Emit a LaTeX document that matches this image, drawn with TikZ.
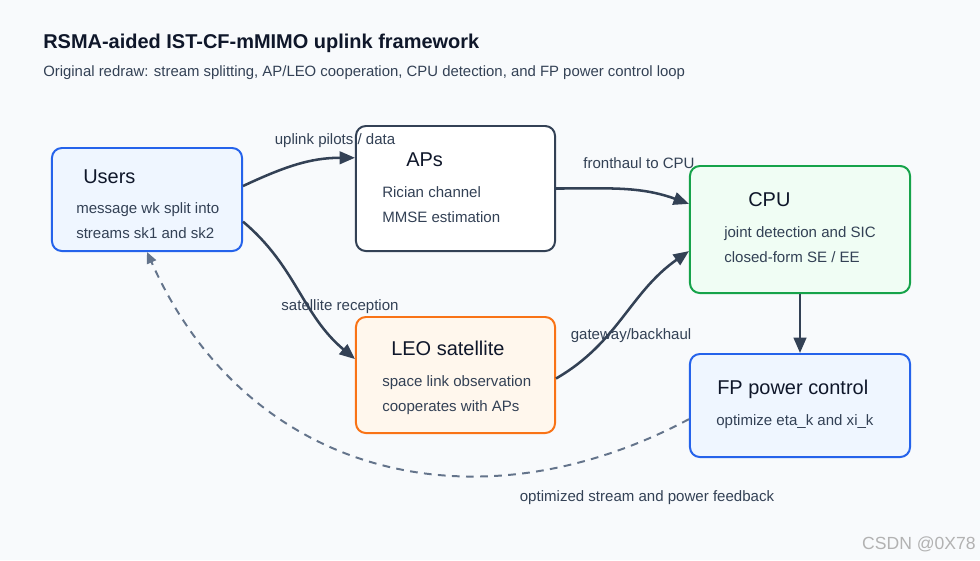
\documentclass[tikz,border=0pt]{standalone}
\usepackage{fontspec}
\setmainfont{Liberation Sans}
\usetikzlibrary{arrows.meta, positioning}
\definecolor{PageBg}{HTML}{F8FAFC}
\definecolor{Ink}{HTML}{0F172A}
\definecolor{Slate}{HTML}{334155}
\definecolor{SlateLight}{HTML}{64748B}
\definecolor{UserBlue}{HTML}{2563EB}
\definecolor{UserFill}{HTML}{EFF6FF}
\definecolor{CpuGreen}{HTML}{16A34A}
\definecolor{CpuFill}{HTML}{F0FDF4}
\definecolor{LeoOrange}{HTML}{F97316}
\definecolor{LeoFill}{HTML}{FFF7ED}

\begin{document}
\begin{tikzpicture}[
    x=0.025cm, y=0.025cm,
    block/.style={draw, line width=1.4pt, rounded corners=7pt},
    head/.style={anchor=base west, inner sep=0pt, text=Ink,
        font=\fontsize{14.2}{17}\selectfont},
    body/.style={anchor=base west, inner sep=0pt, align=left, text=Slate,
        font=\fontsize{10.7}{17.2}\selectfont},
    flow/.style={-{Triangle[length=11pt, width=9pt]}, line width=1.8pt, Slate},
    feedback/.style={-{Triangle[length=8pt, width=7pt]}, line width=1.4pt,
        SlateLight, dash pattern=on 5.5pt off 4.5pt},
    lbl/.style={inner sep=1pt, text=Slate, font=\fontsize{10.7}{13}\selectfont},
]

% page
\fill[PageBg] (0,0) rectangle (980,-560);
\useasboundingbox (0,0) rectangle (980,-560);

% title
\node[anchor=base west, inner sep=0pt, text=Ink,
      font=\fontsize{14.2}{17}\selectfont\bfseries] (title) at (43,-48)
    {RSMA-aided IST-CF-mMIMO uplink framework};
\node[anchor=base west, inner sep=0pt, text=Slate,
      font=\fontsize{10.6}{13}\selectfont] (subtitle) at (43,-76)
    {Original redraw: stream splitting, AP/LEO cooperation, CPU detection, and FP power control loop};

% blocks
\node[block, draw=UserBlue, fill=UserFill, minimum width=4.75cm, minimum height=2.575cm]
    (users) at (147,-199.5) {};
\node[block, draw=Slate, fill=white, minimum width=4.975cm, minimum height=3.125cm]
    (aps) at (455.5,-188.5) {};
\node[block, draw=CpuGreen, fill=CpuFill, minimum width=5.5cm, minimum height=3.175cm]
    (cpu) at (800,-229.5) {};
\node[block, draw=LeoOrange, fill=LeoFill, minimum width=4.975cm, minimum height=2.9cm]
    (leo) at (455.5,-375) {};
\node[block, draw=UserBlue, fill=UserFill, minimum width=5.5cm, minimum height=2.575cm]
    (fp) at (800,-405.5) {};

% block texts (body anchored on its last line)
\node[head] (usersHead) at (83,-183) {Users};
\node[body] (usersBody) at (76,-238) {message wk split into\\streams sk1 and sk2};
\node[head] (apsHead) at (406,-166) {APs};
\node[body] (apsBody) at (382,-222) {Rician channel\\MMSE estimation};
\node[head] (cpuHead) at (748,-206) {CPU};
\node[body] (cpuBody) at (724,-262) {joint detection and SIC\\closed-form SE / EE};
\node[head] (leoHead) at (391,-355) {LEO satellite};
\node[body] (leoBody) at (382,-411) {space link observation\\cooperates with APs};
\node[head] (fpHead) at (717,-394) {FP power control};
\node[body] (fpBody) at (716,-425) {optimize eta\_k and xi\_k};

% links
\draw[flow] (users.8) to[out=25, in=180] (aps.163);
\draw[flow] (users.-13) to[out=-40, in=140] (leo.171);
\draw[flow] (aps.east) to[out=0, in=160] (cpu.167);
\draw[flow] (leo.-2) to[out=30, in=215] (cpu.191);
\draw[flow] (cpu) -- (fp);
\draw[feedback] (fp.187) to[out=208, in=-66, looseness=1.1] (users.south);

% link labels
\node[lbl] (lblPilots) at (335,-141) {uplink pilots / data};
\node[lbl] (lblFront) at (639,-163) {fronthaul to CPU};
\node[lbl] (lblSat) at (340,-307) {satellite reception};
\node[lbl] (lblGate) at (631,-336) {gateway/backhaul};
\node[lbl] (lblFeed) at (647,-498) {optimized stream and power feedback};

% watermark
\node[anchor=base east, inner sep=0pt, text=black!30,
      font=\fontsize{12.5}{15}\selectfont] (mark) at (976,-549) {CSDN @0X78};

\end{tikzpicture}
\end{document}
